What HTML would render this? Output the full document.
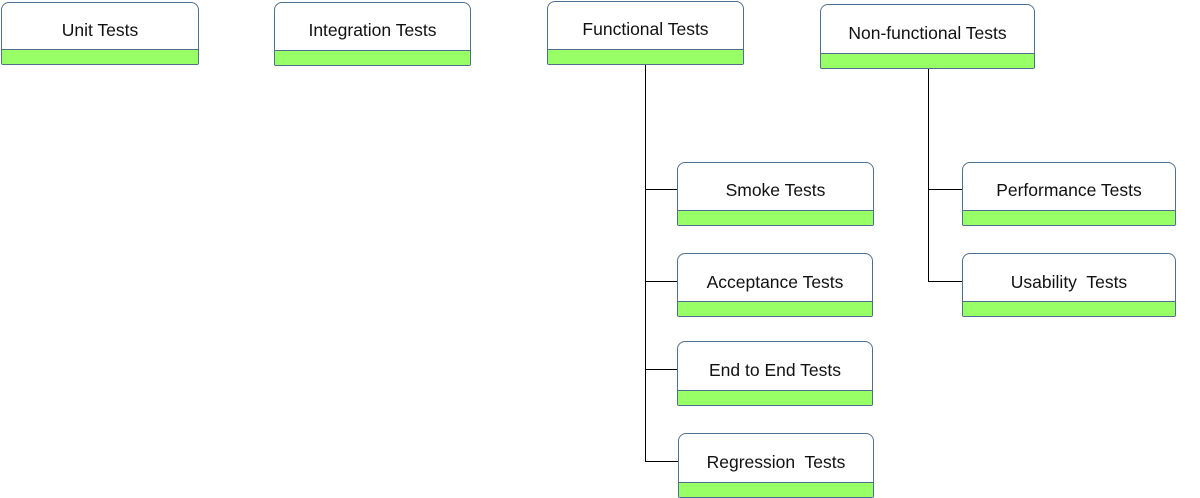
<!DOCTYPE html>
<html><head><style>
body{margin:0;width:1200px;height:498px;background:#fff;position:relative;overflow:hidden;font-family:"Liberation Sans",sans-serif}
.b{position:absolute;box-sizing:border-box;border:1px solid #4f6f8f;border-radius:8px 8px 2px 2px;background:#fff;overflow:hidden}
.b span{position:absolute;left:0;right:0;text-align:center;font-size:17.5px;color:#111}
.b i{position:absolute;left:0;right:0;bottom:0;height:14px;background:#99ff66;border-top:1px solid #4f6f8f}
.l{position:absolute;background:#000}
</style></head><body>
<div class="l" style="left:645px;top:64px;width:1px;height:398px"></div>
<div class="l" style="left:645px;top:189px;width:32px;height:1px"></div>
<div class="l" style="left:645px;top:281px;width:32px;height:1px"></div>
<div class="l" style="left:645px;top:369px;width:32px;height:1px"></div>
<div class="l" style="left:645px;top:461px;width:33px;height:1px"></div>
<div class="l" style="left:928px;top:68px;width:1px;height:214px"></div>
<div class="l" style="left:928px;top:189px;width:34px;height:1px"></div>
<div class="l" style="left:928px;top:281px;width:34px;height:1px"></div>

<div class="b" style="left:1px;top:2px;width:198px;height:63px"><span style="top:17px">Unit Tests</span><i></i></div>
<div class="b" style="left:274px;top:2px;width:197px;height:64px"><span style="top:17px">Integration Tests</span><i></i></div>
<div class="b" style="left:547px;top:1px;width:197px;height:64px"><span style="top:17px">Functional Tests</span><i></i></div>
<div class="b" style="left:820px;top:4px;width:215px;height:65px"><span style="top:18px">Non-functional Tests</span><i></i></div>
<div class="b" style="left:677px;top:162px;width:197px;height:64px"><span style="top:17px">Smoke Tests</span><i></i></div>
<div class="b" style="left:677px;top:253px;width:196px;height:64px"><span style="top:18px">Acceptance Tests</span><i></i></div>
<div class="b" style="left:677px;top:341px;width:196px;height:65px"><span style="top:18px">End to End Tests</span><i></i></div>
<div class="b" style="left:678px;top:433px;width:196px;height:65px"><span style="top:18px">Regression&nbsp; Tests</span><i></i></div>
<div class="b" style="left:962px;top:162px;width:214px;height:64px"><span style="top:17px">Performance Tests</span><i></i></div>
<div class="b" style="left:962px;top:253px;width:214px;height:64px"><span style="top:18px">Usability&nbsp; Tests</span><i></i></div>
</body></html>
